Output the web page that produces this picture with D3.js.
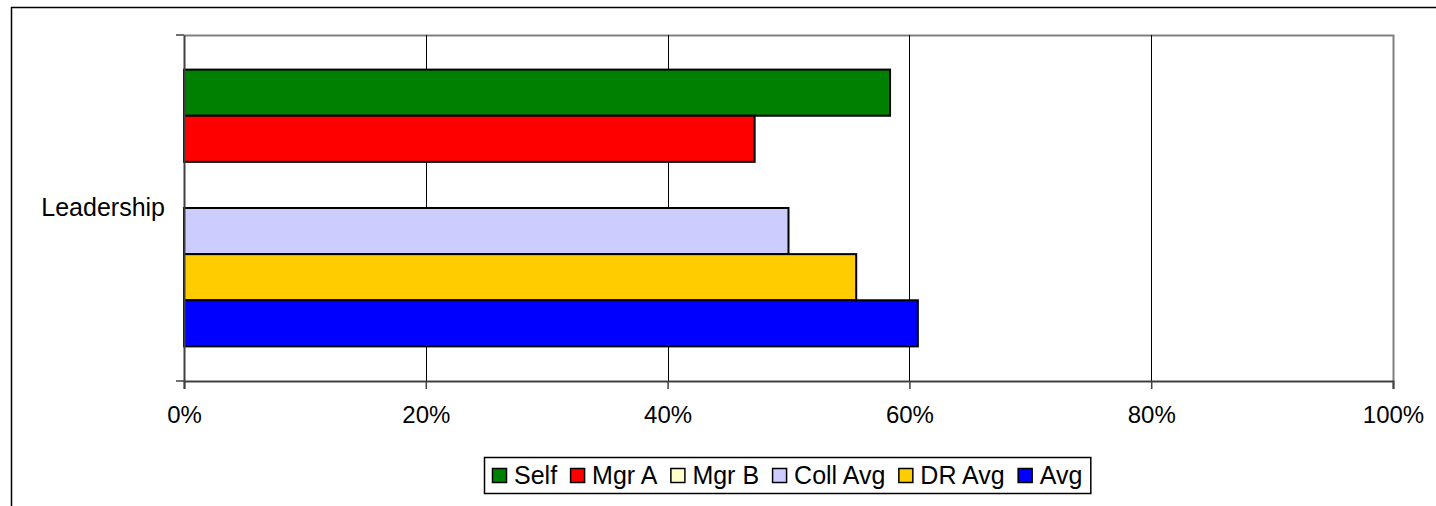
<!DOCTYPE html>
<html>
<head>
<meta charset="utf-8">
<script src="https://cdn.jsdelivr.net/npm/d3@7"></script>
<style>
  html, body { margin: 0; padding: 0; background: #fff; }
  svg { display: block; font-family: Arial, "Liberation Sans", sans-serif; }
</style>
</head>
<body>
<svg id="chart" width="1436" height="506"></svg>
<script>
// Category, series and values
const categories = ["Leadership"];
const seriesNames = ["Self", "Mgr A", "Mgr B", "Coll Avg", "DR Avg", "Avg"];
const seriesColors = ["#008000", "#FF0000", "#FFFFCC", "#CCCCFF", "#FFCC00", "#0000FF"];
const leadershipValues = [0.584, 0.472, 0, 0.500, 0.556, 0.607];
const xTicks = [0, 0.2, 0.4, 0.6, 0.8, 1.0];

const svg = d3.select("#chart");

// Outer chart frame (open to the right and bottom)
svg.append("path")
  .attr("d", "M11.5,506 V7.5 H1436")
  .attr("fill", "none")
  .attr("stroke", "#000")
  .attr("stroke-width", 1.5);

const plot = { left: 184, right: 1393, top: 35, bottom: 381 };

const x = d3.scaleLinear().domain([0, 1]).range([plot.left, plot.right]);
const y = d3.scaleBand().domain(categories).range([plot.top, plot.bottom]);
const yInner = d3.scaleBand().domain(seriesNames).range([0, y.bandwidth()])
  .paddingInner(0).paddingOuter(0.75);

// Plot area border (grey top/right)
svg.append("path")
  .attr("d", `M${plot.left},${plot.top + 0.5} H${plot.right + 0.5} V${plot.bottom}`)
  .attr("fill", "none")
  .attr("stroke", "#808080")
  .attr("stroke-width", 2);

// Vertical gridlines
svg.append("g")
  .selectAll("line")
  .data(xTicks.slice(1, -1))
  .join("line")
  .attr("x1", d => Math.round(x(d)) + 0.5)
  .attr("x2", d => Math.round(x(d)) + 0.5)
  .attr("y1", plot.top)
  .attr("y2", plot.bottom)
  .attr("stroke", "#000")
  .attr("stroke-width", 1);

// Bars
const valuesByCategory = [leadershipValues];
const rows = categories.map((c, i) => ({
  category: c,
  values: seriesNames.map((s, j) => ({ series: s, value: valuesByCategory[i][j], color: seriesColors[j] }))
}));

const groups = svg.append("g").selectAll("g")
  .data(rows)
  .join("g")
  .attr("transform", d => `translate(0,${y(d.category)})`);

groups.selectAll("rect")
  .data(d => d.values.filter(v => v.value > 0))
  .join("rect")
  .attr("x", x(0))
  .attr("y", d => yInner(d.series))
  .attr("width", d => x(d.value) - x(0))
  .attr("height", yInner.bandwidth())
  .attr("fill", d => d.color)
  .attr("stroke", "#000")
  .attr("stroke-width", 2);

// Bottom value axis
const xAxis = d3.axisBottom(x)
  .tickValues(xTicks)
  .tickFormat(d3.format(".0%"))
  .tickSize(8)
  .tickPadding(17);

const xg = svg.append("g")
  .attr("transform", `translate(0,${plot.bottom})`)
  .call(xAxis);
xg.select(".domain").attr("stroke", "#404040").attr("stroke-width", 2);
xg.selectAll(".tick line").attr("stroke", "#404040").attr("stroke-width", 1.5);
xg.selectAll(".tick text")
  .attr("font-family", "Arial, 'Liberation Sans', sans-serif")
  .attr("font-size", 24)
  .attr("fill", "#000");

// Left category axis with ticks at band edges
const yAxis = d3.axisLeft(y).tickSize(0).tickPadding(19);
const yg = svg.append("g")
  .attr("transform", `translate(${plot.left},0)`)
  .call(yAxis);
yg.select(".domain").attr("stroke", "#404040").attr("stroke-width", 2);
yg.selectAll(".tick text")
  .attr("font-family", "Arial, 'Liberation Sans', sans-serif")
  .attr("font-size", 25)
  .attr("fill", "#000");

yg.selectAll(".edge")
  .data([plot.top, plot.bottom])
  .join("line")
  .attr("class", "edge")
  .attr("x1", -8).attr("x2", 0)
  .attr("y1", d => d).attr("y2", d => d)
  .attr("stroke", "#404040")
  .attr("stroke-width", 1.5);

// Legend
const legend = svg.append("g");
const legendBox = legend.append("rect")
  .attr("x", 484.5).attr("y", 457.5)
  .attr("height", 36)
  .attr("fill", "#fff")
  .attr("stroke", "#000")
  .attr("stroke-width", 1.5);

let cx = 492;
seriesNames.forEach((name, i) => {
  legend.append("rect")
    .attr("x", cx + 0.5).attr("y", 468.5)
    .attr("width", 14).attr("height", 14)
    .attr("fill", seriesColors[i])
    .attr("stroke", "#000")
    .attr("stroke-width", 1.5);
  const t = legend.append("text")
    .attr("x", cx + 22)
    .attr("y", 484)
    .attr("font-size", 25)
    .attr("fill", "#000")
    .text(name);
  cx += 22 + t.node().getComputedTextLength() + 13;
});
legendBox.attr("width", cx - 484 - 5);
</script>
</body>
</html>
